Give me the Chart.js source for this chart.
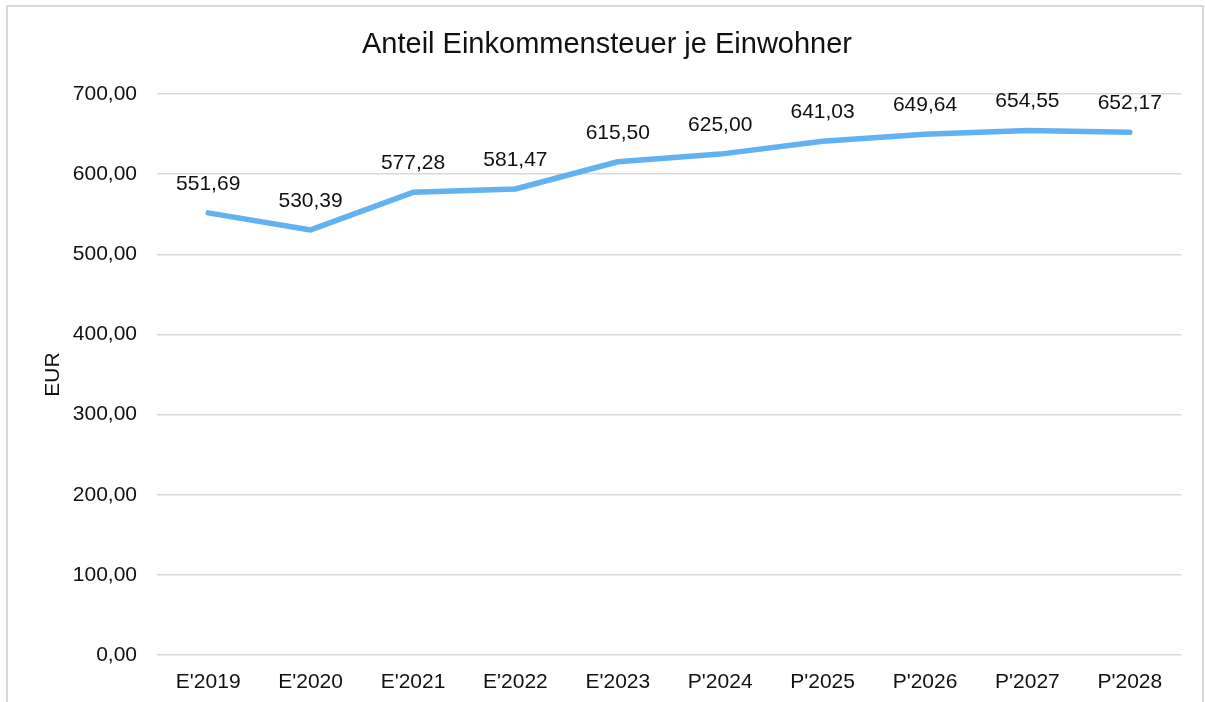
<!DOCTYPE html>
<html>
<head>
<meta charset="utf-8">
<script src="https://cdn.jsdelivr.net/npm/chart.js@4"></script>
<style>
  html, body { margin: 0; padding: 0; background: #fff; }
  #wrap { width: 1205px; height: 702px; position: relative; }
</style>
</head>
<body>
<div id="wrap"><canvas id="chart"></canvas></div>
<script>
// chart data
const categories = ["E'2019", "E'2020", "E'2021", "E'2022", "E'2023", "P'2024", "P'2025", "P'2026", "P'2027", "P'2028"];
const values = [551.69, 530.39, 577.28, 581.47, 615.50, 625.00, 641.03, 649.64, 654.55, 652.17];
const yTicks = [0, 100, 200, 300, 400, 500, 600, 700];
const chartTitle = 'Anteil Einkommensteuer je Einwohner';

const FONT = '"Liberation Sans", Arial, sans-serif';
const fmt = v => v.toFixed(2).replace('.', ',');

// outer frame + title, placed like the office chart
const framePlugin = {
    id: 'frame',
    beforeDraw(chart) {
        const ctx = chart.ctx;
        ctx.save();
        ctx.fillStyle = '#fff';
        ctx.fillRect(0, 0, chart.width, chart.height);
        ctx.strokeStyle = '#d9d9d9';
        ctx.lineWidth = 2;
        ctx.strokeRect(7, 6, 1196, 720);
        ctx.font = '29px ' + FONT;
        ctx.fillStyle = '#111';
        ctx.textAlign = 'center';
        ctx.textBaseline = 'middle';
        ctx.fillText(chartTitle, 607, 45);
        ctx.restore();
    }
};

// value labels above each point
const valueLabels = {
    id: 'valueLabels',
    afterDatasetsDraw(chart) {
        const ctx = chart.ctx;
        const meta = chart.getDatasetMeta(0);
        ctx.save();
        ctx.font = '21px ' + FONT;
        ctx.fillStyle = '#111';
        ctx.textAlign = 'center';
        ctx.textBaseline = 'middle';
        meta.data.forEach((pt, i) => {
            ctx.fillText(fmt(values[i]), pt.x, pt.y - 29);
        });
        ctx.restore();
    }
};

new Chart(document.getElementById('chart'), {
    type: 'line',
    data: {
        labels: categories,
        datasets: [{
            label: chartTitle,
            data: values,
            borderColor: '#62b1f1',
            borderWidth: 5.5,
            borderCapStyle: 'round',
            borderJoinStyle: 'round',
            pointRadius: 0,
            tension: 0,
            fill: false
        }]
    },
    options: {
        responsive: true,
        maintainAspectRatio: false,
        animation: false,
        layout: { padding: { left: 0, right: 24, top: 94, bottom: 0 } },
        plugins: {
            legend: { display: false },
            tooltip: { enabled: false },
            title: { display: false }
        },
        scales: {
            x: {
                offset: true,
                grid: { display: false },
                border: { display: false },
                ticks: { color: '#111', font: { family: FONT, size: 21 }, padding: 7, maxRotation: 0 },
                afterFit(scale) { scale.height = 47; }
            },
            y: {
                min: 0,
                max: 700,
                afterBuildTicks(scale) { scale.ticks = yTicks.map(v => ({ value: v })); },
                grid: { color: '#d9d9d9', lineWidth: 1.5, drawTicks: false },
                border: { display: false },
                ticks: {
                    color: '#111',
                    font: { family: FONT, size: 21 },
                    padding: 20,
                    callback: v => fmt(v)
                },
                title: {
                    display: true,
                    text: 'EUR',
                    color: '#111',
                    font: { family: FONT, size: 21 },
                    padding: { top: 41, bottom: 0 }
                },
                afterFit(scale) { scale.width = 157; }
            }
        }
    },
    plugins: [framePlugin, valueLabels]
});
</script>
</body>
</html>
